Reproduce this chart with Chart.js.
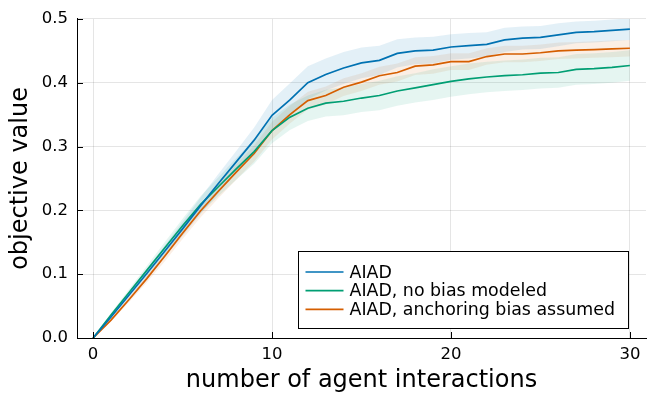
<!DOCTYPE html>
<html>
<head>
<meta charset="utf-8">
<script src="https://cdn.jsdelivr.net/npm/chart.js@4"></script>
<style>
  body { margin: 0; background: #fff; }
  #wrap { width: 664px; height: 399px; }
</style>
</head>
<body>
<div id="wrap"><canvas id="chart" width="664" height="399"></canvas></div>
<script>
// number of agent interactions
const interactions = [0, 1, 2, 3, 4, 5, 6, 7, 8, 9, 10, 11, 12, 13, 14, 15, 16, 17, 18, 19, 20, 21, 22, 23, 24, 25, 26, 27, 28, 29, 30];

// mean objective value per series
const aiad = [0, 0.033, 0.067, 0.101, 0.136, 0.171, 0.207, 0.242, 0.276, 0.310, 0.349, 0.373, 0.400, 0.413, 0.423, 0.431, 0.435, 0.446, 0.450, 0.451, 0.456, 0.458, 0.460, 0.467, 0.470, 0.471, 0.475, 0.479, 0.480, 0.482, 0.484];
const aiadNoBias = [0, 0.036, 0.071, 0.106, 0.141, 0.176, 0.209, 0.237, 0.265, 0.292, 0.325, 0.346, 0.360, 0.368, 0.371, 0.376, 0.380, 0.387, 0.392, 0.397, 0.402, 0.406, 0.409, 0.411, 0.4125, 0.415, 0.416, 0.421, 0.422, 0.424, 0.427];
const aiadAnchoring = [0, 0.028, 0.060, 0.093, 0.128, 0.164, 0.199, 0.230, 0.260, 0.289, 0.325, 0.350, 0.372, 0.380, 0.393, 0.401, 0.411, 0.416, 0.426, 0.428, 0.433, 0.433, 0.441, 0.445, 0.445, 0.447, 0.450, 0.451, 0.452, 0.453, 0.454];

// ribbon half-widths
const aiadErr = [0, 0.003, 0.005, 0.007, 0.009, 0.011, 0.013, 0.015, 0.017, 0.020, 0.024, 0.026, 0.026, 0.025, 0.025, 0.024, 0.023, 0.022, 0.021, 0.021, 0.020, 0.020, 0.019, 0.019, 0.018, 0.018, 0.018, 0.017, 0.017, 0.017, 0.017];
const noBiasErr = [0, 0.003, 0.005, 0.007, 0.009, 0.011, 0.013, 0.015, 0.017, 0.019, 0.020, 0.020, 0.020, 0.021, 0.022, 0.022, 0.023, 0.023, 0.023, 0.024, 0.024, 0.024, 0.024, 0.024, 0.024, 0.024, 0.024, 0.024, 0.024, 0.024, 0.024];
const anchoringErr = [0, 0.002, 0.004, 0.006, 0.008, 0.009, 0.010, 0.011, 0.012, 0.013, 0.014, 0.014, 0.014, 0.014, 0.014, 0.014, 0.014, 0.014, 0.014, 0.014, 0.013, 0.013, 0.013, 0.013, 0.013, 0.013, 0.013, 0.013, 0.013, 0.013, 0.013];

const xTicks = [0, 10, 20, 30];
const yTicks = [0, 0.1, 0.2, 0.3, 0.4, 0.5];

const seriesNames = ['AIAD', 'AIAD, no bias modeled', 'AIAD, anchoring bias assumed'];
const colors = ['#0072B2', '#009E73', '#D55E00'];
const bandColors = ['rgba(0,114,178,0.11)', 'rgba(0,158,115,0.10)', 'rgba(213,94,0,0.10)'];

const FONT = 'DejaVu Sans';

const pts = (ys) => interactions.map((x, i) => ({ x: x, y: ys[i] }));

function band(mean, err, color) {
    const lo = mean.map((v, i) => v - err[i]);
    const hi = mean.map((v, i) => v + err[i]);
    return [
        { data: pts(lo), borderWidth: 0, pointRadius: 0, fill: false, order: 10 },
        { data: pts(hi), borderWidth: 0, pointRadius: 0, fill: '-1', backgroundColor: color, order: 10 }
    ];
}

function line(mean, color) {
    return { data: pts(mean), borderColor: color, borderWidth: 1.7, pointRadius: 0, fill: false, tension: 0, order: 0 };
}

const datasets = [
    ...band(aiad, aiadErr, bandColors[0]),
    ...band(aiadNoBias, noBiasErr, bandColors[1]),
    ...band(aiadAnchoring, anchoringErr, bandColors[2]),
    line(aiad, colors[0]),
    line(aiadNoBias, colors[1]),
    line(aiadAnchoring, colors[2])
];

// inward tick marks + boxed legend inside the plot
const extras = {
    id: 'extras',
    afterDraw(chart) {
        const ctx = chart.ctx;
        const ca = chart.chartArea;
        const xs = chart.scales.x, ys = chart.scales.y;
        ctx.save();
        ctx.strokeStyle = '#000';
        ctx.lineWidth = 1;
        ctx.beginPath();
        xTicks.forEach(v => {
            const px = Math.round(xs.getPixelForValue(v)) + 0.5;
            ctx.moveTo(px, ca.bottom);
            ctx.lineTo(px, ca.bottom - 6);
        });
        yTicks.forEach(v => {
            const py = Math.round(ys.getPixelForValue(v)) + 0.5;
            ctx.moveTo(ca.left, py);
            ctx.lineTo(ca.left + 6, py);
        });
        ctx.stroke();

        // legend
        const w = 330, h = 77;
        const left = Math.round(ca.right - 18 - w) + 0.5;
        const top = Math.round(ca.bottom - 10 - h) + 0.5;
        ctx.fillStyle = '#fff';
        ctx.fillRect(left, top, w, h);
        ctx.strokeRect(left, top, w, h);
        ctx.font = '17.4px "' + FONT + '"';
        ctx.textBaseline = 'middle';
        ctx.textAlign = 'left';
        seriesNames.forEach((name, i) => {
            const y = top + 20.5 + i * 18.7;
            ctx.strokeStyle = colors[i];
            ctx.lineWidth = 1.7;
            ctx.beginPath();
            ctx.moveTo(left + 7, y);
            ctx.lineTo(left + 45, y);
            ctx.stroke();
            ctx.fillStyle = '#000';
            ctx.fillText(name, left + 51, y + 1);
        });
        ctx.restore();
    }
};

new Chart(document.getElementById('chart'), {
    type: 'line',
    data: { datasets: datasets },
    options: {
        responsive: false,
        animation: false,
        events: [],
        layout: { padding: { left: 0, right: 18, top: 18, bottom: 0 } },
        plugins: { legend: { display: false }, tooltip: { enabled: false } },
        scales: {
            x: {
                type: 'linear',
                min: -0.9,
                max: 30.9,
                afterBuildTicks: (s) => { s.ticks = xTicks.map(v => ({ value: v })); },
                afterFit: (s) => { s.height = 61; },
                grid: { color: 'rgba(0,0,0,0.1)', drawTicks: false },
                border: { color: '#000', width: 1 },
                ticks: { color: '#000', padding: 7, font: { family: FONT, size: 16.5 }, maxRotation: 0 },
                title: { display: true, text: 'number of agent interactions', color: '#000', font: { family: FONT, size: 24 }, padding: { top: 0, bottom: 4 } }
            },
            y: {
                min: 0,
                max: 0.5,
                afterBuildTicks: (s) => { s.ticks = yTicks.map(v => ({ value: v })); },
                afterFit: (s) => { s.width = 77; },
                grid: { color: 'rgba(0,0,0,0.1)', drawTicks: false },
                border: { color: '#000', width: 1 },
                ticks: { color: '#000', padding: 9, font: { family: FONT, size: 16.5 }, callback: (v) => v.toFixed(1) },
                title: { display: true, text: 'objective value', color: '#000', font: { family: FONT, size: 24 }, padding: { top: 6, bottom: 0 } }
            }
        }
    },
    plugins: [extras]
});
</script>
</body>
</html>
